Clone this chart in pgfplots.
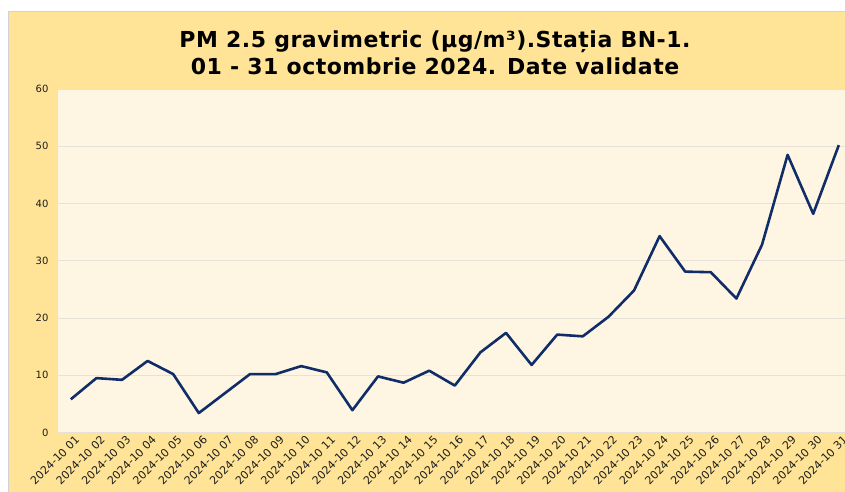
\documentclass[border=0pt]{standalone}
\usepackage{fontspec}
\setmainfont{DejaVu Sans}
\newfontfamily\titlefont[LetterSpace=2.3]{DejaVu Sans}
\usepackage{pgfplots}
\pgfplotsset{compat=1.18}
\definecolor{outerbg}{RGB}{255,227,150}
\definecolor{plotbg}{RGB}{254,246,226}
\definecolor{navy}{RGB}{16,45,106}
\definecolor{gridc}{RGB}{230,226,218}
\definecolor{tickc}{RGB}{30,30,30}
\begin{document}
\begin{tikzpicture}
\useasboundingbox (0pt,0pt) rectangle (845pt,-492pt);
\fill[white] (0pt,0pt) rectangle (845pt,-492pt);
\filldraw[fill=outerbg, draw=gray!35, line width=1pt] (8pt,-12pt) rectangle (870pt,-510pt);
\node[font=\titlefont\fontsize{22}{27}\selectfont\bfseries, anchor=base, text=black, inner sep=0pt] at (435pt,-48pt) {PM 2.5 gravimetric (µg/m³).Stația BN-1.};
\node[font=\titlefont\fontsize{22}{27}\selectfont\bfseries, anchor=base, text=black, inner sep=0pt] at (435pt,-75pt) {01 - 31 octombrie 2024. Date validate};
\begin{axis}[
  at={(58pt,-432.5pt)}, anchor=south west, scale only axis,
  width=793.6pt, height=343.5pt,
  xmin=0.5, xmax=31.5, ymin=0, ymax=60,
  axis background/.style={fill=plotbg},
  axis line style={draw=none},
  ytick={0,10,...,60},
  ymajorgrids, grid style={gridc, line width=1pt},
  major tick length=0pt,
  xtick={1,...,31},
  xticklabels={2024-10 01,2024-10 02,2024-10 03,2024-10 04,2024-10 05,2024-10 06,2024-10 07,2024-10 08,2024-10 09,2024-10 10,2024-10 11,2024-10 12,2024-10 13,2024-10 14,2024-10 15,2024-10 16,2024-10 17,2024-10 18,2024-10 19,2024-10 20,2024-10 21,2024-10 22,2024-10 23,2024-10 24,2024-10 25,2024-10 26,2024-10 27,2024-10 28,2024-10 29,2024-10 30,2024-10 31},
  xticklabel style={rotate=45, anchor=north east, font=\fontsize{11}{13}\selectfont, text=tickc, inner sep=1pt, xshift=2pt, yshift=-3pt},
  yticklabel style={font=\fontsize{10}{12}\selectfont, text=tickc, xshift=-6pt},
  /pgf/number format/assume math mode=true,
]
\addplot[navy, line width=2.6pt, line join=round, mark=none] coordinates {
(1,5.8) (2,9.5) (3,9.2) (4,12.5) (5,10.2) (6,3.4) (7,6.8) (8,10.2) (9,10.2) (10,11.6)
(11,10.5) (12,3.9) (13,9.8) (14,8.7) (15,10.8) (16,8.2) (17,14.0) (18,17.4) (19,11.8) (20,17.1)
(21,16.8) (22,20.2) (23,24.8) (24,34.3) (25,28.1) (26,28.0) (27,23.4) (28,32.8) (29,48.5) (30,38.2)
(31,50.2)
};
\end{axis}
\end{tikzpicture}
\end{document}
